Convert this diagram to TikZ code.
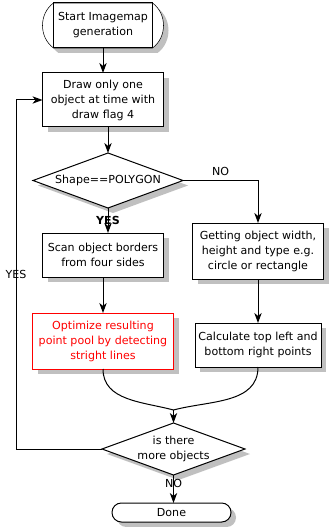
\documentclass[tikz,border=0pt]{standalone}
\usepackage{fontspec}
\setmainfont{DejaVu Sans}
\usepackage{xcolor}
\usetikzlibrary{arrows.meta, shapes.geometric, positioning, shadows, backgrounds}
\definecolor{shadowgray}{RGB}{192,192,192}

\tikzset{
  shade box/.style={drop shadow={shadow xshift=3.75pt, shadow yshift=-3.75pt, fill=shadowgray, opacity=1}},
  box/.style={draw, fill=white, align=center, inner sep=0pt, outer sep=0pt, line width=0.75pt, shade box},
  decision/.style={diamond, draw, fill=white, align=center, inner sep=0pt, outer sep=0pt, line width=0.75pt, shade box},
}

\begin{document}
\begin{tikzpicture}[node distance=2cm,>={Stealth[length=7.5pt,width=5.5pt,inset=2.2pt]},
  font=\fontsize{8.3}{11.25}\selectfont, line width=0.75pt]
\useasboundingbox (0,0) rectangle (246.75pt,-395.25pt);
\node[draw, align=center, inner sep=0pt, outer sep=0pt, minimum width=74.25pt, minimum height=33.75pt] (start) at (77.25pt,-19.125pt) {Start Imagemap\\generation};
\node[box, below=18.75pt of start, minimum width=90.75pt, minimum height=40.5pt] (drawobj) {Draw only one\\object at time with\\draw flag 4};
\node[decision, aspect=2.7, below=19.5pt of drawobj, xshift=3.75pt, minimum width=112.5pt, minimum height=41.25pt] (polygon) {Shape==POLYGON};
\node[box, below=18.75pt of polygon, xshift=-3.75pt, minimum width=90.75pt, minimum height=33pt] (scan) {Scan object borders\\from four sides};
\node[box, draw=red, text=red, below=27pt of scan, minimum width=105.75pt, minimum height=42pt] (optimize) {Optimize resulting\\point pool by detecting\\stright lines};
\node[box, right=21.75pt of scan, yshift=3pt, minimum width=98.25pt, minimum height=42pt] (getsize) {Getting object width,\\height and type e.g.\\circle or rectangle};
\node[box, below=33pt of getsize, minimum width=94.5pt, minimum height=33pt] (corners) {Calculate top left and\\bottom right points};
\node[decision, aspect=2.75, below=40.5pt of optimize.south east, anchor=north, minimum width=107.25pt, minimum height=39pt] (more) {is there\\more objects};
\node[box, rounded corners=7pt, below=21pt of more, xshift=-1.5pt, minimum width=89.25pt, minimum height=14.25pt] (done) {Done};
\coordinate[above=9.75pt of more.north] (merge);
\coordinate (loopx) at (12pt,0);

% start terminal with bent ends
\begin{scope}[on background layer]
\path[fill=white, draw, shade box] (start.north west) .. controls +(-11pt,-8pt) and +(-11pt,8pt) .. (start.south west)
  -- (start.south east) .. controls +(11pt,8pt) and +(11pt,-8pt) .. (start.north east) -- cycle;
\end{scope}

\draw[->] (start) -- (drawobj);
\draw[->] (drawobj.south -| polygon.north) -- (polygon.north);
\draw[->] (polygon.south) -- (polygon.south |- scan.north) node[midway,font=\fontsize{8.3}{11.25}\selectfont\bfseries] {YES};
\draw[->] (polygon.east) -| node[pos=0.25,above] {NO} (getsize.north);
\draw[->] (scan) -- (optimize);
\draw[->] (getsize.south) -- (getsize.south |- corners.north);
\draw (optimize.south) to[out=-90,in=165] (merge);
\draw (corners.south) to[out=-90,in=15] (merge);
\draw[->] (merge) -- (more.north);
\draw[->] (more.west) -- (more.west -| loopx) |- node[pos=0.25] {YES} (drawobj.west);
\draw[->] (more.south) -- (done.north -| more.south) node[pos=0.3] {NO};
\end{tikzpicture}
\end{document}
